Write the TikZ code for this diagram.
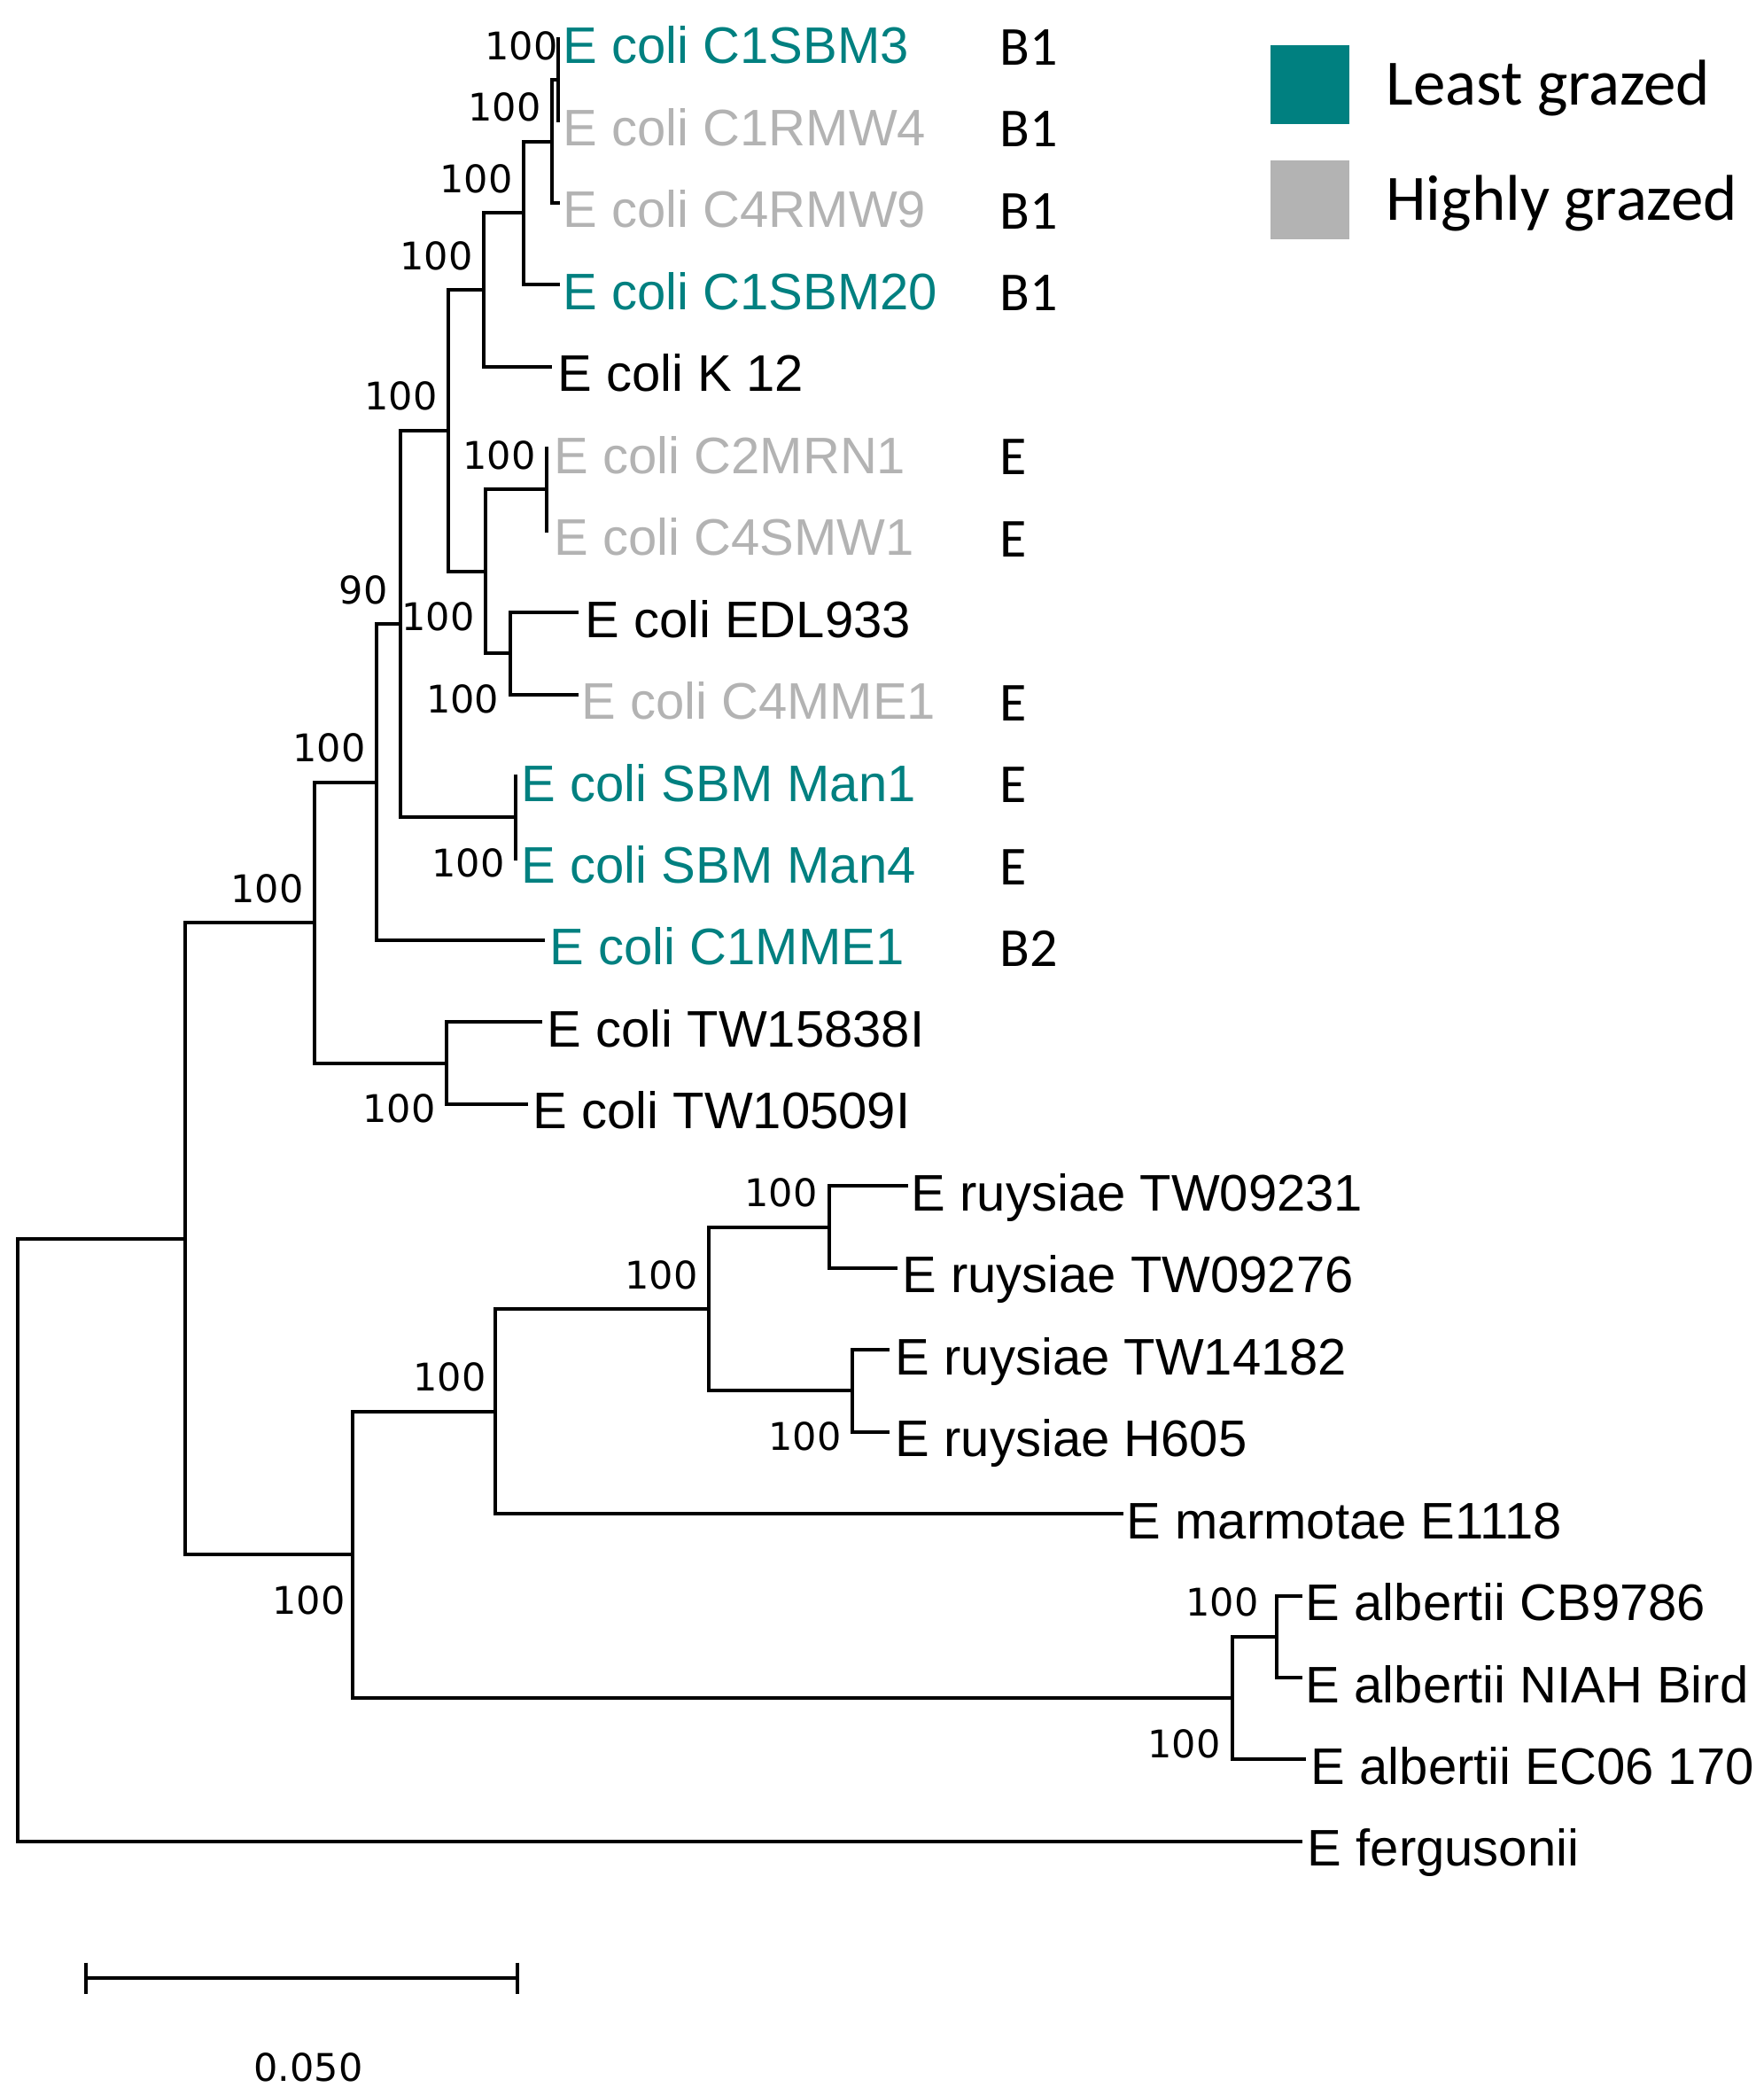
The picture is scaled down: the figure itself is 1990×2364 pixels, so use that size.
\documentclass[tikz,border=0pt]{standalone}
\usepackage{fontspec}
\setmainfont{Liberation Sans}
\newfontfamily\bootfont{DejaVu Sans}
\newfontfamily\calfont{Carlito}
\definecolor{tealc}{RGB}{0,128,128}
\definecolor{greyc}{RGB}{179,179,179}
\begin{document}
\begin{tikzpicture}[x=0.5pt,y=-0.5pt,
  branch/.style={line width=2pt, line join=miter},
  leaf/.style={font=\fontsize{29}{30}\selectfont, inner sep=0pt, anchor=base west},
  lteal/.style={leaf, text=tealc},
  lgrey/.style={leaf, text=greyc},
  boot/.style={font=\bootfont\fontsize{21.5}{22}\selectfont, inner sep=0pt, anchor=base east},
  grp/.style={font=\calfont\fontsize{31}{32}\selectfont, inner sep=0pt, anchor=base west},
  legtext/.style={font=\calfont\fontsize{36.5}{38}\selectfont, inner sep=0pt, anchor=base west},
  legbox/.style={minimum width=44.5pt, minimum height=44.5pt, inner sep=0pt, anchor=north west}
]
\useasboundingbox (0,0) rectangle (1990,2364);

% ---------- internal nodes ----------
\coordinate (A) at (630,90.23);
\coordinate (B) at (623,159.56);
\coordinate (C) at (591,240.46);
\coordinate (D) at (546,327.13);
\coordinate (E) at (617,552.48);
\coordinate (F) at (575.5,737.38);
\coordinate (G) at (548,644.93);
\coordinate (H) at (506,486.03);
\coordinate (I) at (582,922.28);
\coordinate (J) at (452,704.15);
\coordinate (K) at (425,882.55);
\coordinate (L) at (504,1199.63);
\coordinate (M) at (355,1041.09);
\coordinate (N) at (936,1384.53);
\coordinate (O) at (961.6,1569.43);
\coordinate (P) at (800,1476.98);
\coordinate (Q) at (559,1592.54);
\coordinate (R) at (1441,1846.78);
\coordinate (S) at (1391,1916.11);
\coordinate (T) at (398,1754.33);
\coordinate (U) at (209,1397.71);
\coordinate (Root) at (20,1737.8);

% ---------- leaf tips ----------
\coordinate (t1) at (632,44);
\coordinate (t2) at (632,136.45);
\coordinate (t3) at (632,228.9);
\coordinate (t4) at (632,321.35);
\coordinate (t5) at (623,413.8);
\coordinate (t6) at (619,506.25);
\coordinate (t7) at (619,598.7);
\coordinate (t8) at (653,691.15);
\coordinate (t9) at (653,783.6);
\coordinate (t10) at (584,876.05);
\coordinate (t11) at (584,968.5);
\coordinate (t12) at (615,1060.95);
\coordinate (t13) at (612,1153.4);
\coordinate (t14) at (596,1245.85);
\coordinate (t15) at (1025,1338.3);
\coordinate (t16) at (1012.6,1430.75);
\coordinate (t17) at (1004,1523.2);
\coordinate (t18) at (1004,1615.65);
\coordinate (t19) at (1268,1708.1);
\coordinate (t20) at (1470,1800.55);
\coordinate (t21) at (1470,1893);
\coordinate (t22) at (1474,1985.45);
\coordinate (t23) at (1470,2077.9);

% ---------- branches ----------
\draw[branch] (A) |- (t1);  \draw[branch] (A) |- (t2);
\draw[branch] (B) |- (A);   \draw[branch] (B) |- (t3);
\draw[branch] (C) |- (B);   \draw[branch] (C) |- (t4);
\draw[branch] (D) |- (C);   \draw[branch] (D) |- (t5);
\draw[branch] (E) |- (t6);  \draw[branch] (E) |- (t7);
\draw[branch] (F) |- (t8);  \draw[branch] (F) |- (t9);
\draw[branch] (G) |- (E);   \draw[branch] (G) |- (F);
\draw[branch] (H) |- (D);   \draw[branch] (H) |- (G);
\draw[branch] (I) |- (t10); \draw[branch] (I) |- (t11);
\draw[branch] (J) |- (H);   \draw[branch] (J) |- (I);
\draw[branch] (K) |- (J);   \draw[branch] (K) |- (t12);
\draw[branch] (L) |- (t13); \draw[branch] (L) |- (t14);
\draw[branch] (M) |- (K);   \draw[branch] (M) |- (L);
\draw[branch] (N) |- (t15); \draw[branch] (N) |- (t16);
\draw[branch] (O) |- (t17); \draw[branch] (O) |- (t18);
\draw[branch] (P) |- (N);   \draw[branch] (P) |- (O);
\draw[branch] (Q) |- (P);   \draw[branch] (Q) |- (t19);
\draw[branch] (R) |- (t20); \draw[branch] (R) |- (t21);
\draw[branch] (S) |- (R);   \draw[branch] (S) |- (t22);
\draw[branch] (T) |- (Q);   \draw[branch] (T) |- (S);
\draw[branch] (U) |- (M);   \draw[branch] (U) |- (T);
\draw[branch] (Root) |- (U); \draw[branch] (Root) |- (t23);

% ---------- leaf labels ----------
\node[lteal] (n1)  at (635.5,72)     {E coli C1SBM3};
\node[lgrey] (n2)  at (635.5,164.45) {E coli C1RMW4};
\node[lgrey] (n3)  at (635.5,256.9)  {E coli C4RMW9};
\node[lteal] (n4)  at (635.5,349.35) {E coli C1SBM20};
\node[leaf]  (n5)  at (629.5,441.8)  {E coli K 12};
\node[lgrey] (n6)  at (625.5,534.25) {E coli C2MRN1};
\node[lgrey] (n7)  at (625.5,626.7)  {E coli C4SMW1};
\node[leaf]  (n8)  at (660,719.15)   {E coli EDL933};
\node[lgrey] (n9)  at (656,811.6)    {E coli C4MME1};
\node[lteal] (n10) at (588.5,904.05) {E coli SBM Man1};
\node[lteal] (n11) at (588.5,996.5)  {E coli SBM Man4};
\node[lteal] (n12) at (620.5,1088.95){E coli C1MME1};
\node[leaf]  (n13) at (617.5,1181.4) {E coli TW15838I};
\node[leaf]  (n14) at (601.5,1273.85){E coli TW10509I};
\node[leaf]  (n15) at (1028.5,1366.3){E ruysiae TW09231};
\node[leaf]  (n16) at (1018,1458.75) {E ruysiae TW09276};
\node[leaf]  (n17) at (1010.5,1551.2){E ruysiae TW14182};
\node[leaf]  (n18) at (1010.5,1643.65){E ruysiae H605};
\node[leaf]  (n19) at (1271.5,1736.1){E marmotae E1118};
\node[leaf]  (n20) at (1473.5,1828.55){E albertii CB9786};
\node[leaf]  (n21) at (1473.5,1921)  {E albertii NIAH Bird};
\node[leaf]  (n22) at (1479.5,2013.45){E albertii EC06 170};
\node[leaf]  (n23) at (1475.5,2105.9){E fergusonii};

% ---------- phylogroup labels ----------
\node[grp] (g1)  at (1128,73.5)    {B1};
\node[grp] (g2)  at (1128,165.95)  {B1};
\node[grp] (g3)  at (1128,258.4)   {B1};
\node[grp] (g4)  at (1128,350.85)  {B1};
\node[grp] (g6)  at (1128,535.75)  {E};
\node[grp] (g7)  at (1128,628.2)   {E};
\node[grp] (g9)  at (1128,813.1)   {E};
\node[grp] (g10) at (1128,905.55)  {E};
\node[grp] (g11) at (1128,998)     {E};
\node[grp] (g12) at (1128,1090.45) {B2};

% ---------- bootstrap values ----------
\node[boot] (bA) at (630,67.2)    {100};
\node[boot] (bB) at (611,136.6)   {100};
\node[boot] (bC) at (579,217.5)   {100};
\node[boot] (bD) at (534,304.1)   {100};
\node[boot] (bE) at (605,529.5)   {100};
\node[boot] (bF) at (563.5,804.4) {100};
\node[boot] (bG) at (536,711.9)   {100};
\node[boot] (bH) at (494,463)     {100};
\node[boot] (bI) at (570,989.3)   {100};
\node[boot] (bJ) at (438,681.2)   {90};
\node[boot] (bK) at (413,859.6)   {100};
\node[boot] (bL) at (492,1266.6)  {100};
\node[boot] (bM) at (343,1018.1)  {100};
\node[boot] (bN) at (923,1361.5)  {100};
\node[boot] (bO) at (950,1636.4)  {100};
\node[boot] (bP) at (788,1454)    {100};
\node[boot] (bQ) at (549,1569.5)  {100};
\node[boot] (bR) at (1421,1823.8) {100};
\node[boot] (bS) at (1378,1983.1) {100};
\node[boot] (bT) at (390,1821.3)  {100};

% ---------- legend ----------
\node[legbox, fill=tealc] (kteal) at (1434,51) {};
\node[legbox, fill=greyc] (kgrey) at (1434,181) {};
\node[legtext] (ltxt1) at (1564,118.3) {Least grazed};
\node[legtext] (ltxt2) at (1564,248.3) {Highly grazed};

% ---------- scale bar ----------
\coordinate (sbL) at (97,2232);
\coordinate (sbR) at (584,2232);
\draw[branch] (sbL) -- (sbR);
\draw[branch] ([yshift=17.5pt*0]sbL) ++(0,-17.5) -- ++(0,35);
\draw[branch] (sbR) ++(0,-17.5) -- ++(0,35);
\node[font=\bootfont\fontsize{21.5}{22}\selectfont, inner sep=0pt, anchor=base] (sblab) at (348,2348) {0.050};
\end{tikzpicture}
\end{document}
